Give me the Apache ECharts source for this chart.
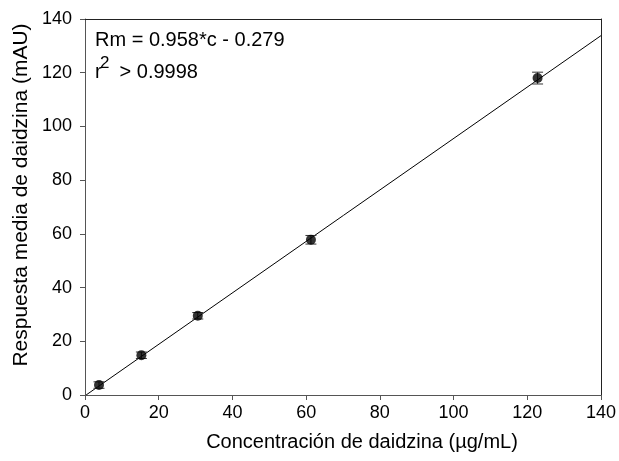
<!DOCTYPE html>
<html>
<head>
<meta charset="utf-8">
<script src="https://cdn.jsdelivr.net/npm/echarts@6/dist/echarts.min.js"></script>
<style>
  html, body { margin: 0; padding: 0; background: #fff; }
  #main { width: 619px; height: 461px; }
</style>
</head>
<body>
<div id="main"></div>
<script>
// concentraciones (µg/mL) y respuesta media (mAU)
var conc = [3.8, 15.3, 30.6, 61.3, 122.8];
var resp = [3.7, 14.8, 29.5, 57.8, 118.0];
var errBar = [1.2, 1.2, 1.2, 1.6, 2.2];
// recta de calibrado, extremos
var fitX = [0.3, 140];
var fitY = [0, 133.8];
var xTitle = 'Concentración de daidzina (µg/mL)';
var yTitle = 'Respuesta media de daidzina (mAU)';

var myChart = echarts.init(document.getElementById('main'));

var pts = [];
var errData = [];
for (var i = 0; i < conc.length; i++) {
  pts.push([conc[i], resp[i]]);
  errData.push([conc[i], resp[i] - errBar[i], resp[i] + errBar[i]]);
}
var fitData = [];
for (var j = 0; j < fitX.length; j++) {
  fitData.push([fitX[j], fitY[j]]);
}

var font = 'Liberation Sans, Arial, sans-serif';

myChart.setOption({
  animation: false,
  grid: { left: 85, right: 16, top: 19, bottom: 66, containLabel: false },
  textStyle: { fontFamily: font, color: '#000' },
  xAxis: [{
    type: 'value',
    min: 0, max: 140, interval: 20,
    axisLine: { show: true, lineStyle: { color: '#555', width: 1 } },
    axisTick: { show: true, inside: false, length: 5, lineStyle: { color: '#555' } },
    axisLabel: { fontSize: 18, color: '#000', margin: 9, fontFamily: font },
    splitLine: { show: false }
  }, {
    type: 'value', position: 'top',
    min: 0, max: 140,
    axisLine: { show: true, onZero: false, lineStyle: { color: '#222', width: 1 } },
    axisTick: { show: false }, axisLabel: { show: false }, splitLine: { show: false }
  }],
  yAxis: [{
    type: 'value',
    min: 0, max: 140, interval: 20,
    axisLine: { show: true, lineStyle: { color: '#555', width: 1 } },
    axisTick: { show: true, inside: false, length: 5, lineStyle: { color: '#555' } },
    axisLabel: { fontSize: 18, color: '#000', margin: 13, fontFamily: font },
    splitLine: { show: false }
  }, {
    type: 'value', position: 'right',
    min: 0, max: 140,
    axisLine: { show: true, onZero: false, lineStyle: { color: '#222', width: 1 } },
    axisTick: { show: false }, axisLabel: { show: false }, splitLine: { show: false }
  }],
  graphic: [{
    type: 'text',
    x: 362, y: 442,
    style: {
      text: xTitle, font: '20px ' + font, fill: '#000',
      align: 'center', verticalAlign: 'middle'
    }
  }, {
    type: 'text',
    x: 21, y: 195, rotation: Math.PI / 2,
    style: {
      text: yTitle, font: '21px ' + font, fill: '#000',
      align: 'center', verticalAlign: 'middle'
    }
  }, {
    type: 'text',
    x: 95, y: 40,
    style: {
      text: 'Rm = 0.958*c - 0.279', font: '20px ' + font, fill: '#000',
      align: 'left', verticalAlign: 'middle'
    }
  }, {
    type: 'text',
    x: 95, y: 72,
    style: {
      text: 'r', font: '20px ' + font, fill: '#000',
      align: 'left', verticalAlign: 'middle'
    }
  }, {
    type: 'text',
    x: 100, y: 63,
    style: {
      text: '2', font: '17px ' + font, fill: '#000',
      align: 'left', verticalAlign: 'middle'
    }
  }, {
    type: 'text',
    x: 114, y: 72,
    style: {
      text: ' > 0.9998', font: '20px ' + font, fill: '#000',
      align: 'left', verticalAlign: 'middle'
    }
  }],
  series: [{
    type: 'line',
    data: fitData,
    symbol: 'none',
    lineStyle: { color: '#000', width: 1 },
    silent: true,
    z: 2
  }, {
    type: 'custom',
    data: errData,
    z: 3,
    renderItem: function (params, api) {
      var x = api.value(0);
      var lo = api.coord([x, api.value(1)]);
      var hi = api.coord([x, api.value(2)]);
      var cap = 5.5;
      var st = { stroke: '#333', lineWidth: 1 };
      return {
        type: 'group',
        children: [
          { type: 'line', shape: { x1: lo[0], y1: lo[1], x2: hi[0], y2: hi[1] }, style: st },
          { type: 'line', shape: { x1: lo[0] - cap, y1: lo[1], x2: lo[0] + cap, y2: lo[1] }, style: st },
          { type: 'line', shape: { x1: hi[0] - cap, y1: hi[1], x2: hi[0] + cap, y2: hi[1] }, style: st }
        ]
      };
    }
  }, {
    type: 'scatter',
    data: pts,
    symbol: 'circle',
    symbolSize: 10,
    itemStyle: { color: '#000' },
    z: 4
  }]
});
</script>
</body>
</html>
